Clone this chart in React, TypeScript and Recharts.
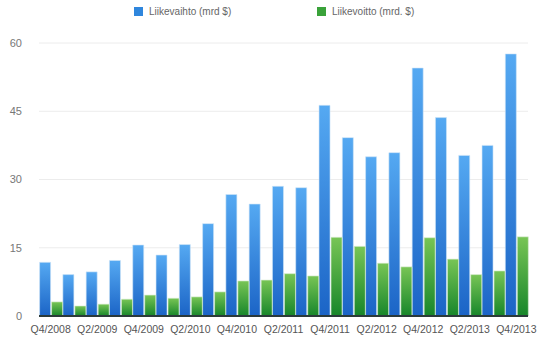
import { BarChart, Bar, XAxis, YAxis, CartesianGrid } from 'recharts';

const quarters = [
  'Q4/2008', 'Q1/2009', 'Q2/2009', 'Q3/2009', 'Q4/2009', 'Q1/2010', 'Q2/2010',
  'Q3/2010', 'Q4/2010', 'Q1/2011', 'Q2/2011', 'Q3/2011', 'Q4/2011', 'Q1/2012',
  'Q2/2012', 'Q3/2012', 'Q4/2012', 'Q1/2013', 'Q2/2013', 'Q3/2013', 'Q4/2013',
];

const revenue = [
  11.8, 9.1, 9.7, 12.2, 15.6, 13.4, 15.7, 20.3, 26.7, 24.6, 28.5,
  28.2, 46.3, 39.2, 35.0, 35.9, 54.5, 43.6, 35.3, 37.5, 57.6,
];

const profit = [
  3.1, 2.2, 2.6, 3.7, 4.6, 3.9, 4.2, 5.3, 7.7, 7.9, 9.3,
  8.8, 17.3, 15.3, 11.6, 10.8, 17.2, 12.5, 9.1, 9.9, 17.4,
];

const yTicks = [0, 15, 30, 45, 60];

const data = quarters.map((q, i) => ({
  name: q,
  revenue: revenue[i],
  profit: profit[i],
}));

const font = '"Liberation Sans", Arial, sans-serif';

function LegendItem({ color, label, left }: { color: string; label: string; left: number }) {
  return (
    <div
      style={{
        position: 'absolute',
        left,
        top: 6,
        display: 'flex',
        alignItems: 'center',
        fontSize: 10,
        color: '#666',
        whiteSpace: 'nowrap',
      }}
    >
      <span
        style={{
          display: 'inline-block',
          width: 9,
          height: 9,
          background: color,
          marginRight: 6,
        }}
      />
      <span>{label}</span>
    </div>
  );
}

export default function App() {
  return (
    <div
      style={{
        position: 'absolute',
        left: 0,
        top: 0,
        width: 550,
        height: 353,
        background: '#fff',
        fontFamily: font,
      }}
    >
      <LegendItem color="#2f86dd" label="Liikevaihto (mrd $)" left={134} />
      <LegendItem color="#3aa23a" label="Liikevoitto (mrd. $)" left={317} />
      <BarChart
        width={550}
        height={353}
        data={data}
        margin={{ top: 43, right: 22, left: 0, bottom: 17 }}
        barCategoryGap={0.6}
        barGap={1}
      >
        <defs>
          <linearGradient id="gradBlue" x1="0" y1="0" x2="0" y2="1">
            <stop offset="0%" stopColor="#55a9f2" />
            <stop offset="100%" stopColor="#1b64c6" />
          </linearGradient>
          <linearGradient id="gradGreen" x1="0" y1="0" x2="0" y2="1">
            <stop offset="0%" stopColor="#78c555" />
            <stop offset="100%" stopColor="#17862a" />
          </linearGradient>
        </defs>
        <CartesianGrid vertical={false} stroke="#ececec" />
        <XAxis
          dataKey="name"
          interval={1}
          tickLine={false}
          axisLine={{ stroke: '#2b3a3a', strokeWidth: 2 }}
          tick={{ fontSize: 10.5, fill: '#555', fontFamily: font }}
          tickMargin={4}
          height={20}
        />
        <YAxis
          domain={[0, 60]}
          ticks={yTicks}
          width={39}
          axisLine={false}
          tickLine={false}
          tickMargin={11}
          tick={{ fontSize: 11, fill: '#777', fontFamily: font }}
        />
        <Bar
          dataKey="revenue"
          fill="url(#gradBlue)"
          stroke="#cfe4f6"
          strokeWidth={0.6}
          isAnimationActive={false}
        />
        <Bar
          dataKey="profit"
          fill="url(#gradGreen)"
          stroke="#d6ecd0"
          strokeWidth={0.6}
          isAnimationActive={false}
        />
      </BarChart>
    </div>
  );
}
